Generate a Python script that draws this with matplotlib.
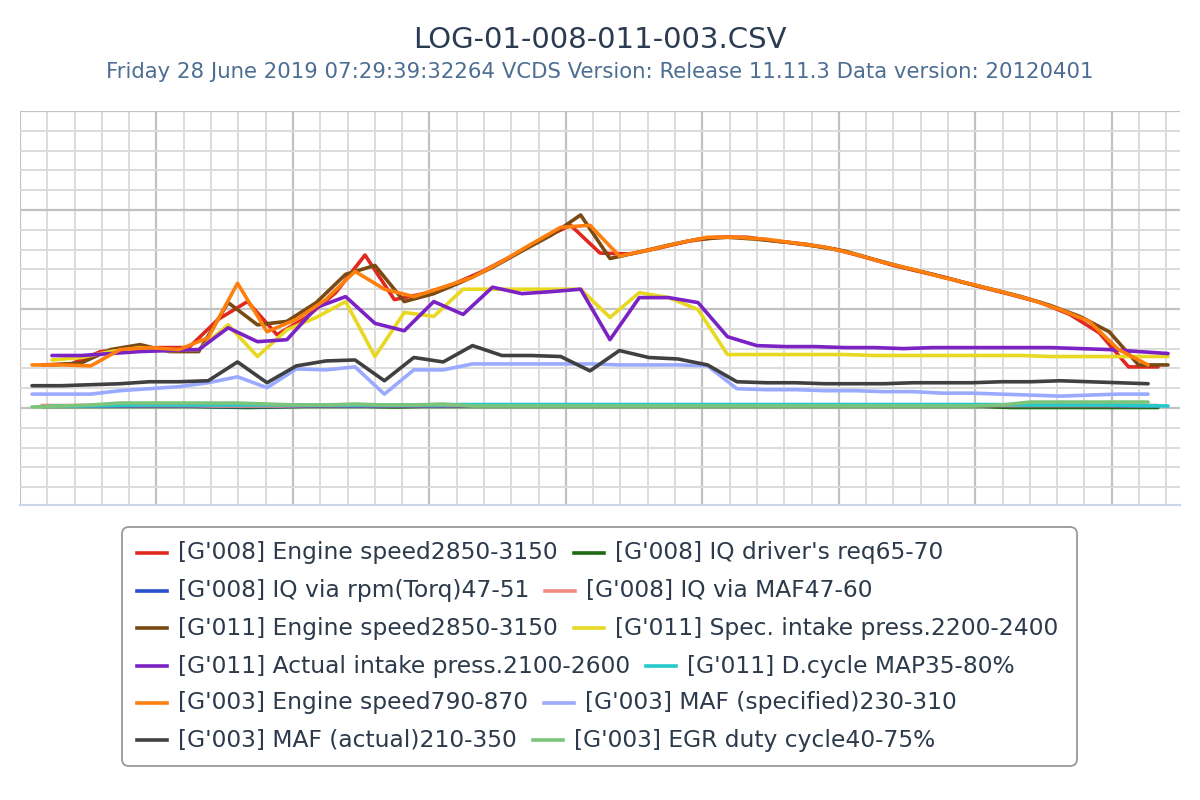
import matplotlib
matplotlib.use("Agg")
import matplotlib.pyplot as plt
import matplotlib.transforms as mtransforms
from matplotlib.patches import FancyBboxPatch
from matplotlib.lines import Line2D
import numpy as np

plt.rcParams['font.family'] = ['DejaVu Sans']

TITLE = "LOG-01-008-011-003.CSV"
SUBTITLE = "Friday 28 June 2019 07:29:39:32264 VCDS Version: Release 11.11.3 Data version: 20120401"

# time stamps (s) per measuring group
t008 = [1.61, 3.76, 5.91, 8.07, 10.22, 12.37, 14.52, 16.67, 18.83, 20.98, 23.13, 25.28, 27.43,
        29.59, 31.74, 33.89, 36.04, 38.19, 40.35, 42.50, 44.65, 46.80, 48.95, 51.11, 53.26, 55.41,
        57.56, 59.71, 61.87, 64.02, 66.17, 68.32, 70.47, 72.63, 74.78, 76.93, 79.08, 81.23, 83.39]
t011 = [2.34, 4.49, 6.64, 8.80, 10.95, 13.10, 15.25, 17.40, 19.56, 21.71, 23.86, 26.01, 28.16,
        30.32, 32.47, 34.62, 36.77, 38.92, 41.08, 43.23, 45.38, 47.53, 49.68, 51.84, 53.99, 56.14,
        58.29, 60.44, 62.60, 64.75, 66.90, 69.05, 71.20, 73.36, 75.51, 77.66, 79.81, 81.96, 84.12]
t003 = [0.88, 3.03, 5.18, 7.34, 9.49, 11.64, 13.79, 15.94, 18.10, 20.25, 22.40, 24.55, 26.70,
        28.86, 31.01, 33.16, 35.31, 37.46, 39.62, 41.77, 43.92, 46.07, 48.22, 50.38, 52.53, 54.68,
        56.83, 58.98, 61.14, 63.29, 65.44, 67.59, 69.74, 71.90, 74.05, 76.20, 78.35, 80.50, 82.66]

g008_engine = [870, 890, 1140, 1180, 1220, 1220, 1790, 2150, 1480, 1830, 2330, 3090, 2190,
               2310, 2500, 2760, 3070, 3410, 3690, 3130, 3110, 3230, 3370, 3450, 3450, 3370,
               3310, 3210, 3050, 2880, 2740, 2600, 2440, 2290, 2130, 1890, 1520, 830, 830]
g008_iq_req = [30, 30, 30, 30, 30, 30, 20, 10, 20, 30, 30, 30, 20, 30, 30, 30, 30, 30, 30, 30,
               30, 30, 30, 30, 30, 30, 30, 30, 30, 30, 30, 30, 30, 10, 10, 10, 10, 10, 10]
g008_iq_rpm = [40, 40, 40, 40, 40, 40, 30, 30, 30, 40, 40, 40, 40, 40, 40, 50, 50, 50, 50, 50,
               50, 50, 50, 50, 50, 50, 50, 50, 50, 50, 50, 50, 50, 50, 50, 50, 50, 40, 40]
g008_iq_maf = [50, 50, 50, 50, 50, 50, 40, 40, 40, 50, 50, 50, 50, 50, 50, 50, 50, 50, 50, 50,
               50, 50, 50, 50, 50, 50, 50, 50, 50, 50, 50, 50, 50, 50, 50, 50, 50, 50, 50]

g011_engine = [870, 910, 1180, 1280, 1140, 1140, 2130, 1680, 1750, 2130, 2700, 2880, 2150,
               2310, 2560, 2840, 3170, 3490, 3900, 3020, 3150, 3290, 3410, 3450, 3410, 3350,
               3270, 3170, 3000, 2840, 2700, 2540, 2400, 2250, 2070, 1850, 1540, 870, 870]
g011_spec_press = [970, 1020, 1140, 1220, 1160, 1180, 1680, 1040, 1580, 1830, 2150, 1040, 1930,
                   1850, 2400, 2400, 2400, 2400, 2400, 1830, 2330, 2230, 1990, 1080, 1080, 1080,
                   1080, 1080, 1060, 1060, 1060, 1060, 1060, 1060, 1040, 1040, 1040, 1040, 1040]
g011_act_press = [1060, 1060, 1100, 1140, 1160, 1180, 1620, 1340, 1380, 2030, 2250, 1710, 1560,
                  2150, 1890, 2440, 2310, 2350, 2400, 1380, 2230, 2230, 2130, 1440, 1260, 1240,
                  1240, 1220, 1220, 1200, 1220, 1220, 1220, 1220, 1220, 1200, 1180, 1140, 1100]
g011_map_dc = [40, 40, 50, 60, 60, 60, 60, 60, 60, 60, 60, 60, 60, 60, 70, 70, 70, 70, 70, 70,
               70, 70, 70, 70, 70, 70, 70, 70, 70, 70, 70, 70, 70, 60, 60, 60, 60, 50, 40]

g003_engine = [870, 870, 850, 1180, 1220, 1180, 1420, 2520, 1540, 1790, 2190, 2760, 2400,
               2250, 2440, 2640, 2960, 3310, 3650, 3690, 3070, 3190, 3330, 3450, 3450, 3410,
               3330, 3250, 3110, 2940, 2800, 2640, 2500, 2350, 2190, 1990, 1750, 1180, 870]
g003_maf_spec = [280, 280, 280, 350, 390, 430, 510, 630, 410, 790, 770, 830, 280, 770, 770,
                 890, 890, 890, 890, 890, 870, 870, 870, 850, 390, 370, 370, 350, 350, 330,
                 330, 300, 300, 280, 260, 240, 260, 280, 280]
g003_maf_act = [450, 450, 470, 490, 530, 530, 550, 930, 510, 850, 950, 970, 550, 1020, 930,
                1260, 1060, 1060, 1040, 750, 1160, 1020, 990, 870, 530, 510, 510, 490, 490, 490,
                510, 510, 510, 530, 530, 550, 530, 510, 490]
g003_egr = [20, 40, 60, 100, 100, 100, 100, 100, 80, 60, 60, 80, 60, 60, 80, 40, 40, 40, 40,
            40, 40, 40, 40, 40, 40, 40, 40, 40, 40, 40, 40, 40, 40, 60, 120, 120, 120, 120, 120]

series = [
    ("[G'008] Engine speed2850-3150", t008, g008_engine, '#e0281e'),
    ("[G'008] IQ driver's req65-70", t008, g008_iq_req, '#1d6b14'),
    ("[G'008] IQ via rpm(Torq)47-51", t008, g008_iq_rpm, '#2a4fcc'),
    ("[G'008] IQ via MAF47-60", t008, g008_iq_maf, '#f28a80'),
    ("[G'011] Engine speed2850-3150", t011, g011_engine, '#7a4a14'),
    ("[G'011] Spec. intake press.2200-2400", t011, g011_spec_press, '#e8d822'),
    ("[G'011] Actual intake press.2100-2600", t011, g011_act_press, '#7b22c4'),
    ("[G'011] D.cycle MAP35-80%", t011, g011_map_dc, '#26c9c9'),
    ("[G'003] Engine speed790-870", t003, g003_engine, '#ff7f0e'),
    ("[G'003] MAF (specified)230-310", t003, g003_maf_spec, '#9aabff'),
    ("[G'003] MAF (actual)210-350", t003, g003_maf_act, '#404040'),
    ("[G'003] EGR duty cycle40-75%", t003, g003_egr, '#7cc47c'),
]

W, H = 1200, 800
fig = plt.figure(figsize=(12, 8), dpi=100)
ax = fig.add_axes([20 / W, 1 - 505 / H, 1160 / W, 394 / H])
ax.set_xlim(0, 85)
ax.set_ylim(-1960, 6000)
ax.set_xticks(np.arange(0, 86, 10))
ax.set_xticks(np.arange(0, 86, 2), minor=True)
ax.set_yticks(np.arange(0, 6001, 2000))
ax.set_yticks(np.arange(-1600, 6001, 400), minor=True)
ax.grid(which='minor', color='#dcdcdc', lw=1.4, zorder=0)
ax.grid(which='major', color='#c2c2c2', lw=1.6, zorder=0)
ax.tick_params(which='both', length=0, labelbottom=False, labelleft=False)
for s in ['top', 'right', 'left']:
    ax.spines[s].set_visible(False)
ax.spines['bottom'].set_color('#ccd6eb')
ax.spines['bottom'].set_linewidth(1.5)
ax.set_axisbelow(True)

for label, t, v, c in series:
    ax.plot(t, v, color=c, lw=2.6, solid_joinstyle='round', solid_capstyle='round', zorder=3)

fig.text(0.5, 1 - 40 / H, TITLE, ha='center', va='center', fontsize=21, color='#2a3b52')
fig.text(0.5, 1 - 72 / H, SUBTITLE, ha='center', va='center', fontsize=15.3, color='#4d6e92')

# legend (flow layout, two items per row)
ident = mtransforms.IdentityTransform()
box = FancyBboxPatch((122, H - 766), 955, 239, boxstyle="round,pad=0,rounding_size=7",
                     transform=ident, ec='#999999', fc='white', lw=1.3)
fig.patches.append(box)
fig.canvas.draw()
renderer = fig.canvas.get_renderer()
row_y = [553, 591, 628, 666, 703, 740]
lfs = 16.8
for r in range(6):
    yy = H - row_y[r]
    x0 = 137
    for k in range(2):
        label, t, v, c = series[2 * r + k]
        fig.lines.append(Line2D([x0, x0 + 30], [yy, yy], transform=ident, color=c, lw=2.6))
        txt = fig.text((x0 + 41) / W, yy / H, label, ha='left', va='center', fontsize=lfs,
                       color='#2c3a4b')
        bb = txt.get_window_extent(renderer)
        x0 = bb.x1 + 16

fig.savefig("out.png", dpi=100)
